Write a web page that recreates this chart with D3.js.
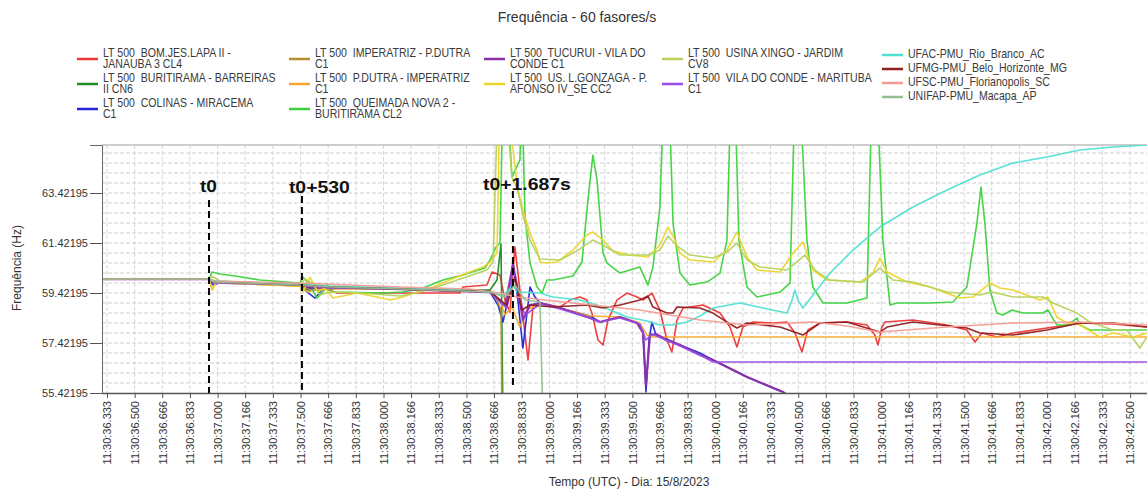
<!DOCTYPE html>
<html><head><meta charset="utf-8">
<script src="https://cdn.jsdelivr.net/npm/d3@7"></script>
<style>
body{margin:0;background:#fff;}
svg text{font-family:"Liberation Sans",Arial,sans-serif;}
</style></head><body>
<svg id="chart" width="1147" height="489"></svg>
<script>
// ---------------- DATA ----------------
const chartTitle = "Frequência - 60 fasores/s";
const yAxisTitle = "Frequência (Hz)";
const xAxisTitle = "Tempo (UTC) - Dia: 15/8/2023";
const yTickValues = [55.42195, 57.42195, 59.42195, 61.42195, 63.42195];
const xTickLabels = ["11:30:36.333","11:30:36.500","11:30:36.666","11:30:36.833","11:30:37.000","11:30:37.166","11:30:37.333","11:30:37.500","11:30:37.666","11:30:37.833","11:30:38.000","11:30:38.166","11:30:38.333","11:30:38.500","11:30:38.666","11:30:38.833","11:30:39.000","11:30:39.166","11:30:39.333","11:30:39.500","11:30:39.666","11:30:39.833","11:30:40.000","11:30:40.166","11:30:40.333","11:30:40.500","11:30:40.666","11:30:40.833","11:30:41.000","11:30:41.166","11:30:41.333","11:30:41.500","11:30:41.666","11:30:41.833","11:30:42.000","11:30:42.166","11:30:42.333","11:30:42.500"];
const timeDomain = [36.303, 42.602];   // seconds after 11:30:00
const freqDomain = [55.42195, 65.34195];

const legendLines = [
  ["LT 500  BOM.JES.LAPA II -","JANAUBA 3 CL4"],
  ["LT 500  BURITIRAMA - BARREIRAS","II CN6"],
  ["LT 500  COLINAS - MIRACEMA","C1"],
  ["LT 500  IMPERATRIZ - P.DUTRA","C1"],
  ["LT 500  P.DUTRA - IMPERATRIZ","C1"],
  ["LT 500  QUEIMADA NOVA 2 -","BURITIRAMA CL2"],
  ["LT 500  TUCURUI - VILA DO","CONDE C1"],
  ["LT 500  US. L.GONZAGA - P.","AFONSO IV_SE CC2"],
  ["LT 500  USINA XINGO - JARDIM","CV8"],
  ["LT 500  VILA DO CONDE - MARITUBA","C1"],
  ["UFAC-PMU_Rio_Branco_AC"],
  ["UFMG-PMU_Belo_Horizonte_MG"],
  ["UFSC-PMU_Florianopolis_SC"],
  ["UNIFAP-PMU_Macapa_AP"]
];
const seriesColors = ["#ee3535","#1e8c22","#2424d8","#b58f2c","#f5a62b","#3dd23d","#8a2fa6","#ecd42a","#b6d25c","#9a4ce6","#4ee0d2","#8e1f1f","#f39c94","#93bf93"];

const bomJesLapa = [[36.303,59.98],[36.948,59.98],[36.984,59.82],[37.135,59.86],[37.315,59.78],[37.496,59.74],[37.557,59.62],[37.647,59.62],[37.719,59.42],[38.461,59.42],[38.479,59.66],[38.623,59.74],[38.654,60.26],[38.702,60.14],[38.732,59.14],[38.762,58.66],[38.792,61.26],[38.822,59.54],[38.871,56.74],[38.901,58.86],[38.943,59.02],[39.064,58.86],[39.124,59.14],[39.184,59.26],[39.226,59.14],[39.256,58.62],[39.293,57.54],[39.323,57.34],[39.353,58.34],[39.407,59.14],[39.467,59.42],[39.528,59.26],[39.564,59.14],[39.618,59.42],[39.666,58.74],[39.708,57.54],[39.738,57.06],[39.769,58.34],[39.805,58.82],[39.926,58.94],[40.028,58.62],[40.088,58.06],[40.130,57.26],[40.166,58.06],[40.227,58.26],[40.347,58.22],[40.432,58.26],[40.480,57.82],[40.522,57.06],[40.558,57.94],[40.631,58.22],[40.793,58.26],[40.914,58.14],[40.962,57.74],[40.980,57.34],[41.004,58.06],[41.022,58.26],[41.191,58.34],[41.396,58.14],[41.516,57.94],[41.565,57.46],[41.607,57.82],[41.697,57.66],[41.794,57.82],[41.999,58.02],[42.198,58.22],[42.397,58.18],[42.602,58.06]];
const buritiramaBarreiras = [[36.303,59.98],[36.948,59.98],[36.978,59.90],[37.135,59.82],[37.496,59.78],[37.544,59.54],[37.617,59.54],[37.737,59.62],[38.099,59.58],[38.461,59.54],[38.642,59.54],[38.684,59.94],[38.708,61.38],[38.720,54.34]];
const colinasMiracema = [[36.303,59.98],[36.948,59.98],[36.972,59.74],[37.026,59.86],[37.255,59.82],[37.496,59.74],[37.526,59.54],[37.587,59.22],[37.629,59.54],[37.677,59.66],[38.099,59.58],[38.461,59.50],[38.642,59.46],[38.690,58.94],[38.720,58.26],[38.750,59.14],[38.780,60.66],[38.810,59.14],[38.840,57.22],[38.883,59.66],[38.913,59.26],[38.943,59.02],[39.064,58.82],[39.244,58.50],[39.305,58.26],[39.425,58.46],[39.528,58.22],[39.564,57.94],[39.582,55.46],[39.600,57.54],[39.618,58.26],[39.642,57.74],[39.666,57.70],[39.787,57.34],[39.907,57.02],[39.986,56.74],[40.191,56.06],[40.408,55.46],[40.450,55.30]];
const imperatrizPDutra = [[36.303,59.98],[36.948,59.98],[36.978,59.86],[37.195,59.78],[37.496,59.70],[37.557,59.58],[37.677,59.62],[38.099,59.58],[38.461,59.50],[38.642,59.46],[38.684,59.14],[38.708,58.74],[38.714,54.34]];
const pDutraImperatriz = [[36.303,59.98],[36.948,59.98],[36.966,59.54],[36.990,59.82],[37.195,59.78],[37.496,59.70],[37.544,59.46],[37.617,59.58],[38.099,59.58],[38.461,59.50],[38.642,59.46],[38.702,59.14],[38.732,58.54],[38.774,58.86],[38.822,58.06],[38.865,58.74],[38.943,59.02],[39.244,58.50],[39.425,58.46],[39.545,58.22],[39.588,57.74],[39.624,57.66],[42.602,57.66]];
const queimadaNova = [[36.303,59.98],[36.948,59.98],[36.966,60.26],[37.014,60.18],[37.105,60.10],[37.255,59.94],[37.496,59.82],[37.514,60.06],[37.557,59.74],[37.599,59.22],[37.635,59.46],[37.659,59.78],[37.695,59.46],[37.997,59.42],[38.117,59.46],[38.238,59.62],[38.358,59.94],[38.479,60.14],[38.611,60.42],[38.642,60.74],[38.678,61.26],[38.702,61.42],[38.720,67.50],[38.744,67.50],[38.774,64.06],[38.822,64.74],[38.834,67.50],[38.853,62.46],[38.883,60.62],[38.925,59.66],[38.955,59.42],[38.985,59.94],[39.021,59.94],[39.142,60.10],[39.196,60.66],[39.232,63.14],[39.262,64.94],[39.287,63.94],[39.323,61.02],[39.347,60.62],[39.425,60.22],[39.545,60.46],[39.594,59.74],[39.624,60.46],[39.666,62.86],[39.690,67.50],[39.720,67.50],[39.745,62.22],[39.787,60.22],[39.847,59.74],[39.950,59.86],[40.028,60.22],[40.070,61.54],[40.094,67.50],[40.118,67.50],[40.142,61.54],[40.191,59.66],[40.251,59.26],[40.390,59.46],[40.450,59.82],[40.480,67.50],[40.510,67.50],[40.552,61.54],[40.588,59.66],[40.649,59.02],[40.793,59.02],[40.914,59.22],[40.944,67.50],[40.974,67.50],[41.010,61.54],[41.053,58.94],[41.095,59.02],[41.294,59.02],[41.432,59.06],[41.516,59.66],[41.577,62.22],[41.601,63.66],[41.625,62.22],[41.655,59.54],[41.697,58.62],[41.734,58.54],[41.788,58.74],[41.854,58.62],[41.975,58.62],[42.005,58.74],[42.059,58.14],[42.119,58.14],[42.180,58.42],[42.198,58.14],[42.258,57.94],[42.602,57.94]];
const tucuruiVilaDoConde = [[36.303,59.98],[36.948,59.98],[36.978,59.86],[37.195,59.82],[37.496,59.74],[37.557,59.62],[37.677,59.66],[38.099,59.58],[38.461,59.50],[38.642,59.46],[38.702,59.14],[38.732,58.90],[38.780,60.54],[38.810,59.54],[38.840,58.34],[38.883,58.94],[38.943,59.02],[39.064,58.82],[39.244,58.42],[39.305,58.26],[39.425,58.46],[39.528,58.22],[39.564,57.82],[39.582,55.74],[39.606,57.74],[39.642,57.78],[39.702,57.54],[39.787,57.34],[39.907,56.94],[39.986,56.74],[40.191,56.06],[40.408,55.46],[40.462,55.14]];
const lGonzagaPAfonso = [[36.303,59.98],[36.948,59.98],[36.966,59.58],[36.990,59.82],[37.195,59.78],[37.496,59.70],[37.514,59.46],[37.557,60.06],[37.605,59.46],[37.647,59.62],[37.695,59.22],[37.840,59.42],[37.960,59.26],[38.039,59.14],[38.117,59.26],[38.202,59.46],[38.298,59.66],[38.443,60.06],[38.599,60.46],[38.642,60.66],[38.684,61.02],[38.702,67.50],[38.738,67.50],[38.810,63.54],[38.840,62.74],[38.883,61.82],[38.925,61.14],[38.943,60.66],[38.985,60.62],[39.046,60.66],[39.142,61.14],[39.226,61.74],[39.262,61.86],[39.323,61.54],[39.383,61.10],[39.485,60.94],[39.594,60.86],[39.666,61.34],[39.714,62.06],[39.751,61.62],[39.787,61.02],[39.847,60.74],[39.986,60.66],[40.070,61.14],[40.130,61.86],[40.191,60.86],[40.251,60.34],[40.390,60.26],[40.468,61.02],[40.528,61.46],[40.588,60.34],[40.673,59.94],[40.872,59.86],[40.950,60.22],[40.992,60.82],[41.035,60.26],[41.155,59.86],[41.294,59.66],[41.474,59.22],[41.553,59.26],[41.655,59.82],[41.716,59.62],[41.794,59.54],[41.957,59.14],[42.005,59.26],[42.059,58.46],[42.119,58.22],[42.198,58.14],[42.318,57.66],[42.397,57.82],[42.517,57.66],[42.602,57.82]];
const xingoJardim = [[36.303,59.98],[36.948,59.98],[36.966,60.10],[37.014,59.90],[37.195,59.82],[37.496,59.74],[37.526,59.98],[37.568,59.82],[37.617,59.34],[37.677,59.46],[37.858,59.42],[38.099,59.30],[38.220,59.46],[38.340,59.70],[38.479,60.02],[38.623,60.34],[38.660,60.66],[38.690,67.50],[38.732,67.50],[38.774,64.06],[38.810,63.54],[38.840,62.54],[38.883,61.54],[38.943,60.78],[39.064,60.74],[39.154,61.06],[39.262,61.54],[39.323,61.34],[39.425,60.94],[39.594,60.94],[39.666,61.14],[39.714,61.70],[39.763,61.34],[39.847,60.94],[39.986,60.82],[40.070,61.06],[40.130,61.42],[40.191,60.74],[40.269,60.46],[40.432,60.34],[40.540,60.94],[40.600,60.34],[40.691,59.94],[40.890,59.86],[40.992,60.42],[41.071,59.94],[41.191,59.86],[41.396,59.46],[41.595,59.34],[41.667,59.46],[41.794,59.26],[41.975,59.26],[42.035,59.02],[42.180,58.62],[42.258,58.26],[42.397,57.94],[42.481,57.94],[42.559,57.22],[42.602,57.66]];
const vilaDoCondeMarituba = [[36.303,59.98],[36.948,59.98],[36.978,59.82],[37.496,59.74],[37.677,59.62],[38.099,59.58],[38.461,59.50],[38.642,59.46],[38.702,59.06],[38.744,58.82],[38.780,60.34],[38.822,59.14],[38.853,58.54],[38.943,58.98],[39.064,58.78],[39.244,58.42],[39.305,58.26],[39.425,58.42],[39.545,58.18],[39.582,57.54],[39.618,57.78],[39.787,57.30],[39.907,56.94],[39.986,56.66],[42.602,56.66]];
const ufacRioBranco = [[36.303,59.98],[36.948,59.98],[36.978,59.90],[37.496,59.78],[37.677,59.70],[38.099,59.62],[38.461,59.54],[38.642,59.46],[38.720,59.30],[38.780,59.74],[38.804,59.46],[38.943,59.42],[39.021,59.26],[39.184,59.14],[39.323,58.86],[39.467,58.46],[39.588,58.30],[39.666,58.14],[39.745,58.14],[39.829,58.26],[39.907,58.50],[39.986,58.82],[40.148,59.02],[40.287,58.82],[40.432,58.62],[40.462,59.14],[40.480,59.54],[40.498,59.14],[40.528,58.82],[40.691,60.22],[40.830,61.14],[40.992,62.06],[41.191,62.86],[41.396,63.54],[41.595,64.14],[41.794,64.62],[41.999,64.86],[42.198,65.14],[42.397,65.26],[42.602,65.34]];
const ufmgBeloHorizonte = [[36.303,59.98],[36.948,59.98],[36.978,59.86],[37.496,59.74],[37.677,59.66],[38.099,59.58],[38.461,59.50],[38.642,59.50],[38.702,59.14],[38.744,58.94],[38.792,60.06],[38.834,58.74],[38.883,58.94],[39.021,58.86],[39.226,58.94],[39.323,58.82],[39.425,58.94],[39.545,59.14],[39.594,59.30],[39.624,58.86],[39.708,58.62],[39.745,58.62],[39.769,58.86],[39.907,58.82],[39.986,58.62],[40.070,58.26],[40.130,58.02],[40.191,58.22],[40.390,58.06],[40.528,57.74],[40.631,58.22],[40.793,58.26],[40.992,57.86],[41.035,58.06],[41.191,58.26],[41.516,58.02],[41.595,57.82],[41.794,57.74],[41.999,57.94],[42.198,58.22],[42.397,58.22],[42.602,58.06]];
const ufscFlorianopolis = [[36.303,59.98],[36.948,59.98],[36.978,59.90],[37.496,59.82],[38.099,59.66],[38.521,59.58],[38.702,59.42],[38.804,59.26],[39.142,59.02],[39.545,58.74],[39.907,58.34],[40.191,58.14],[40.588,58.26],[40.793,58.10],[40.992,57.86],[41.396,58.06],[41.794,58.22],[42.198,58.26],[42.602,58.14]];
const unifapMacapa = [[36.303,59.98],[36.948,59.98],[36.978,59.86],[37.496,59.74],[37.677,59.66],[38.099,59.58],[38.461,59.50],[38.642,59.46],[38.732,59.26],[38.792,59.74],[38.853,59.14],[38.943,59.06],[38.961,54.34]];

const seriesData = [bomJesLapa, buritiramaBarreiras, colinasMiracema, imperatrizPDutra, pDutraImperatriz, queimadaNova, tucuruiVilaDoConde, lGonzagaPAfonso, xingoJardim, vilaDoCondeMarituba, ufacRioBranco, ufmgBeloHorizonte, ufscFlorianopolis, unifapMacapa];

const annotationLabels = ["t0", "t0+530", "t0+1.687s"];
const annotationTimes = [36.948, 37.508, 38.780];

// ---------------- DRAW ----------------
const svg = d3.select("#chart");
const W = 1147, H = 489;
const plot = {left: 102, right: 1147, top: 145, bottom: 393};

const x = d3.scaleLinear().domain(timeDomain).range([plot.left, plot.right]);
const y = d3.scaleLinear().domain(freqDomain).range([plot.bottom, plot.top]);

svg.append("rect").attr("width", W).attr("height", H).attr("fill", "#fff");

// Title
svg.append("text").attr("x", 577).attr("y", 22).attr("text-anchor", "middle")
  .attr("font-size", 14).attr("fill", "#333").text(chartTitle);

// Legend
const colX = [77, 289, 484, 662, 882];
const layout = [
  [0,0,0],[0,1,0],[0,2,0],
  [1,0,0],[1,1,0],[1,2,0],
  [2,0,0],[2,1,0],
  [3,0,0],[3,1,0],
  [4,0,1],[4,1,1],[4,2,1],[4,3,1]
];
const rowsMulti = [53, 78, 103];
const rowsSingle = [54, 68, 82, 96];
const lg = svg.append("g");
legendLines.forEach((lines, i) => {
  const [c, r, single] = layout[i];
  const cy = single ? rowsSingle[r] : rowsMulti[r];
  const sx = colX[c];
  const swY = lines.length > 1 ? cy + 6 : cy + 1;
  lg.append("line").attr("x1", sx).attr("x2", sx + 21).attr("y1", swY).attr("y2", swY)
    .attr("stroke", seriesColors[i]).attr("stroke-width", 2.5);
  lines.forEach((ln, k) => {
    lg.append("text")
      .attr("transform", `translate(${sx + 26},${cy + 4 + k * 10.5}) scale(0.88,1)`)
      .attr("font-size", 12).attr("fill", "#3a3a3a")
      .style("white-space", "pre").text(ln);
  });
});

// Grid
const grid = svg.append("g");
const hGrid = d3.range(freqDomain[0] + 0.4, freqDomain[1], 0.4);
grid.selectAll(".hg").data(hGrid).join("line")
  .attr("x1", plot.left).attr("x2", plot.right)
  .attr("y1", d => y(d)).attr("y2", d => y(d))
  .attr("stroke", "#cfcfcf").attr("stroke-width", 1).attr("stroke-dasharray", "4,2");
const xTickVals = xTickLabels.map(s => +s.slice(6));
grid.selectAll(".vg").data(xTickVals).join("line")
  .attr("x1", d => x(d)).attr("x2", d => x(d))
  .attr("y1", plot.top).attr("y2", plot.bottom)
  .attr("stroke", "#d6d6d6").attr("stroke-width", 1).attr("stroke-dasharray", "4,2");

// Frame top
svg.append("line").attr("x1", plot.left).attr("x2", plot.right).attr("y1", plot.top).attr("y2", plot.top)
  .attr("stroke", "#bdbdbd").attr("stroke-width", 1.5);

// Series
svg.append("clipPath").attr("id", "clip").append("rect")
  .attr("x", plot.left).attr("y", plot.top).attr("width", plot.right - plot.left).attr("height", plot.bottom - plot.top);
const line = d3.line().x(d => x(d[0])).y(d => y(d[1]));
const sg = svg.append("g").attr("clip-path", "url(#clip)");
seriesData.forEach((data, i) => {
  sg.append("path").datum(data).attr("d", line)
    .attr("fill", "none").attr("stroke", seriesColors[i])
    .attr("stroke-width", (i === 6) ? 2.2 : 1.6).attr("stroke-linejoin", "round")
    .attr("opacity", 0.95);
});

// Annotations
const annDx = [-9, -13, -30];
const annTop = [200, 196, 191];
const annBottom = [393, 393, 388];
const annBase = [192, 193, 190];
const annLen = [17, 61, 88];
annotationLabels.forEach((lab, i) => {
  const ax = x(annotationTimes[i]);
  svg.append("line").attr("x1", ax).attr("x2", ax).attr("y1", annTop[i]).attr("y2", annBottom[i])
    .attr("stroke", "#000").attr("stroke-width", 2).attr("stroke-dasharray", "7,4");
  svg.append("text").attr("x", ax + annDx[i]).attr("y", annBase[i])
    .attr("font-size", 17).attr("font-weight", "bold").attr("fill", "#111")
    .attr("textLength", annLen[i]).attr("lengthAdjust", "spacingAndGlyphs").text(lab);
});

// Axes
const yAxis = svg.append("g").attr("transform", `translate(${plot.left},0)`)
  .call(d3.axisLeft(y).tickValues(yTickValues).tickFormat(d => d.toFixed(5)).tickSize(12).tickPadding(2));
yAxis.select(".domain").attr("stroke", "#666");
yAxis.selectAll(".tick line").attr("stroke", "#555");
yAxis.selectAll("text").attr("font-size", 11).attr("fill", "#333")
  .attr("font-family", "'Liberation Sans',Arial,sans-serif");

const xAxis = svg.append("g").attr("transform", `translate(0,${plot.bottom})`)
  .call(d3.axisBottom(x).tickValues(xTickVals).tickFormat((d, i) => xTickLabels[i]).tickSize(5).tickSizeOuter(0));
xAxis.select(".domain").attr("stroke", "#555").attr("stroke-width", 1.5);
xAxis.selectAll(".tick line").attr("stroke", "#555");
xAxis.selectAll("text")
  .attr("font-size", 11).attr("fill", "#333")
  .attr("font-family", "'Liberation Sans',Arial,sans-serif")
  .attr("text-anchor", "end")
  .attr("transform", "rotate(-90)")
  .attr("x", -8).attr("y", 0).attr("dy", "0.35em");

// Axis titles
svg.append("text").attr("transform", `translate(21,268) rotate(-90)`).attr("text-anchor", "middle")
  .attr("font-size", 12).attr("fill", "#333").text(yAxisTitle);
svg.append("text").attr("x", 629).attr("y", 486).attr("text-anchor", "middle")
  .attr("font-size", 12).attr("fill", "#333").text(xAxisTitle);
</script>
</body></html>
